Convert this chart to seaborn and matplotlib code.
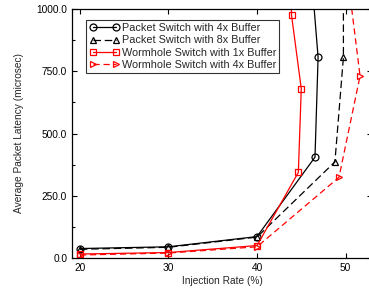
import matplotlib
matplotlib.use("Agg")
import matplotlib.pyplot as plt
import seaborn as sns
from matplotlib.ticker import MultipleLocator, FormatStrFormatter

# Werte
pkt4_rate = [20, 30, 40, 46.55, 46.9, 46.3]
pkt4_lat = [38, 45, 86, 405, 806, 1070]

pkt8_rate = [20, 30, 40, 48.8, 49.76, 49.76]
pkt8_lat = [35, 43, 84, 386, 806, 1100]

wh1_rate = [20, 30, 40, 44.67, 45.0, 43.9, 43.8]
wh1_lat = [16, 22, 50, 344, 680, 975, 1100]

wh4_rate = [20, 30, 40, 49.26, 51.64, 50.49]
wh4_lat = [12, 20, 45, 324, 731, 1060]

labels = ["Packet Switch with 4x Buffer", "Packet Switch with 8x Buffer",
          "Wormhole Switch with 1x Buffer", "Wormhole Switch with 4x Buffer"]

sns.set_style("ticks")
plt.rcParams['font.family'] = ['Liberation Sans', 'DejaVu Sans']

fig = plt.figure(figsize=(3.69, 2.95), dpi=100)
ax = fig.add_axes([72 / 369, 1 - 258 / 295, 300 / 369, 249 / 295])

series = [
    (pkt4_rate, pkt4_lat, "black", "o", None),
    (pkt8_rate, pkt8_lat, "black", "^", (6, 3)),
    (wh1_rate, wh1_lat, "red", "s", None),
    (wh4_rate, wh4_lat, "red", ">", (5, 3)),
]
for (x, y, c, m, d), lab in zip(series, labels):
    sns.lineplot(x=x, y=y, ax=ax, sort=False, estimator=None, color=c,
                 marker=m, markersize=5, markerfacecolor="none",
                 markeredgecolor=c, markeredgewidth=0.9, linewidth=0.9,
                 label=lab)
    if d is not None:
        ax.lines[-1].set_dashes(d)

ax.set_xlim(19.1, 52.99)
ax.set_ylim(0, 1000)
ax.set_xticks([20, 30, 40, 50])
ax.yaxis.set_major_locator(MultipleLocator(250))
ax.yaxis.set_minor_locator(MultipleLocator(125))
ax.yaxis.set_major_formatter(FormatStrFormatter("%.1f"))
ax.tick_params(which="both", direction="in", top=True, right=True,
               labelsize=7.3, width=0.8, colors="black")
ax.tick_params(which="major", length=3.5)
ax.tick_params(which="minor", length=2)
for s in ax.spines.values():
    s.set_linewidth(0.9)
    s.set_color("black")

ax.set_xlabel("Injection Rate (%)", fontsize=7.3, labelpad=2)
ax.set_ylabel("Average Packet Latency (microsec)", fontsize=7.3, labelpad=9)

leg = ax.legend(loc="upper left", bbox_to_anchor=(0.047, 0.956), numpoints=2,
                fontsize=7.8, frameon=True, fancybox=False, handlelength=2.8,
                handletextpad=0.2, labelspacing=0.2, borderpad=0.3,
                borderaxespad=0)
leg.get_frame().set_edgecolor("black")
leg.get_frame().set_linewidth(0.8)

fig.savefig("out.png", dpi=100)
